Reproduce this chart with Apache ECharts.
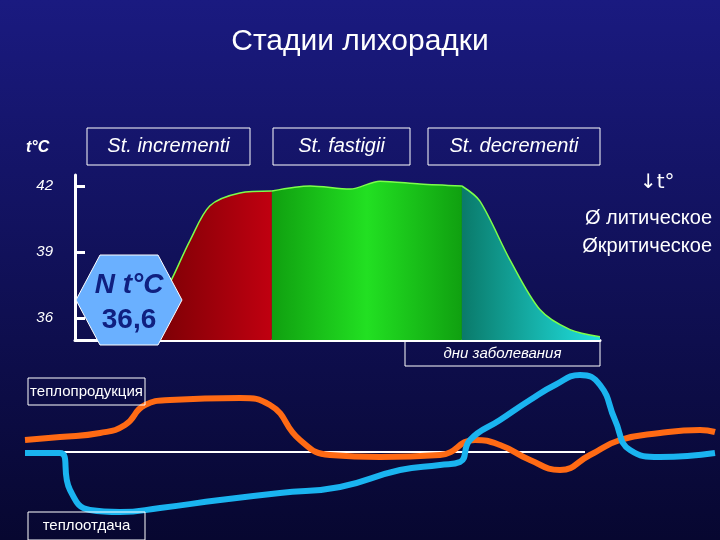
<!DOCTYPE html>
<html><head><meta charset="utf-8">
<script src="https://cdn.jsdelivr.net/npm/echarts@6/dist/echarts.min.js"></script>
<style>html,body{margin:0;padding:0}#c{width:720px;height:540px}</style>
</head><body><div id="c"></div>
<script>
// temperature curve, x = share of the illness (0..100), y = °C
var riseData = [[4.8,35.38],[10.5,35.69],[16.2,36.82],[21.9,39.52],[25.7,41.1],[31.4,41.68],[37.5,41.77]];
var peakData = [[37.5,41.77],[44.8,42.0],[52.4,41.86],[58.1,42.22],[65.7,42.09],[73.7,42.0]];
var fallData = [[73.7,42.0],[77.1,41.32],[82.9,38.62],[88.6,36.37],[94.3,35.47],[100,35.15]];
var tempTicks = [36, 39, 42];
// heat balance curves (relative position, lower panel)
var heatProd = [[25,440],[60,437],[100,433],[125,425],[145,405],[170,400],[240,398],[270,405],[300,440],[330,455],[380,457],[440,455],[475,440],[500,445],[530,460],[560,470],[590,455],[620,440],[660,433],[700,430],[715,432]];
var heatLoss = [[25,453],[60,453],[70,490],[90,510],[120,512],[160,508],[220,500],[280,493],[340,487],[400,470],[440,465],[460,462],[470,440],[500,420],[530,400],[555,385],[580,375],[600,385],[615,420],[630,450],[660,457],[715,453]];
var baseLine = [[60,452],[585,452]];
var stages = ['St. incrementi', 'St. fastigii', 'St. decrementi'];

var chart = echarts.init(document.getElementById('c'));
function box(x, y, w, h, txt, fs, italic) {
  return {type:'group', z:100, children:[
    {type:'rect', z:100, shape:{x:x,y:y,width:w,height:h}, style:{fill:'rgba(0,0,0,0)', stroke:'#fff', lineWidth:1}},
    {type:'text', z:101, x:x+w/2, y:y+h/2, style:{text:txt, fill:'#fff', font:(italic?'italic ':'')+fs+'px "Liberation Sans"', align:'center', verticalAlign:'middle'}}
  ]};
}
var option = {
  backgroundColor: {type:'linear', x:0, y:0, x2:0, y2:1, colorStops:[{offset:0,color:'#1a1a80'},{offset:1,color:'#070730'}]},
  title: {text:'Стадии лихорадки', left:'center', top:22, textStyle:{color:'#fff', fontSize:30, fontWeight:'normal', fontFamily:'Liberation Sans'}},
  grid: [
    {left:75, right:120, top:175, height:165},
    {left:25, right:5, top:370, height:160}
  ],
  xAxis: [
    {gridIndex:0, type:'value', min:0, max:100, axisLine:{show:true, lineStyle:{color:'#fff', width:3}}, axisTick:{show:false}, axisLabel:{show:false}, splitLine:{show:false}},
    {gridIndex:1, type:'value', min:25, max:715, show:false}
  ],
  yAxis: [
    {gridIndex:0, type:'value', min:35, max:42.5, axisLine:{show:true, lineStyle:{color:'#fff', width:3}},
     axisTick:{show:true, length:10, inside:true, lineStyle:{color:'#fff', width:3}, customValues:tempTicks},
     axisLabel:{color:'#fff', fontSize:15, fontStyle:'italic', margin:22, customValues:tempTicks}, splitLine:{show:false}},
    {gridIndex:1, type:'value', min:370, max:530, inverse:true, show:false}
  ],
  series: [
    {type:'line', xAxisIndex:0, yAxisIndex:0, data:riseData, smooth:0.3, symbol:'none', lineStyle:{color:'#7cff4a', width:1.5},
     areaStyle:{origin:'start', opacity:1, color:{type:'linear',x:0,y:0,x2:1,y2:0,colorStops:[{offset:0,color:'#5a0000'},{offset:1,color:'#c00010'}]}}},
    {type:'line', xAxisIndex:0, yAxisIndex:0, data:peakData, smooth:0.3, symbol:'none', lineStyle:{color:'#7cff4a', width:1.5},
     areaStyle:{origin:'start', opacity:1, color:{type:'linear',x:0,y:0,x2:1,y2:0,colorStops:[{offset:0,color:'#10a010'},{offset:0.5,color:'#22e022'},{offset:1,color:'#10a010'}]}}},
    {type:'line', xAxisIndex:0, yAxisIndex:0, data:fallData, smooth:0.3, symbol:'none', lineStyle:{color:'#7cff4a', width:1.5},
     areaStyle:{origin:'start', opacity:1, color:{type:'linear',x:0,y:0,x2:1,y2:0,colorStops:[{offset:0,color:'#0a7a6a'},{offset:1,color:'#20e0e0'}]}}},
    {type:'line', xAxisIndex:1, yAxisIndex:1, data:baseLine, symbol:'none', lineStyle:{color:'#fff', width:2}},
    {type:'line', xAxisIndex:1, yAxisIndex:1, data:heatProd, smooth:true, symbol:'none', lineStyle:{color:'#ff6a14', width:6}},
    {type:'line', xAxisIndex:1, yAxisIndex:1, data:heatLoss, smooth:true, symbol:'none', lineStyle:{color:'#1ab4f0', width:6}}
  ],
  graphic: [
    {type:'text', z:100, x:26, y:140, style:{text:'t°C', fill:'#fff', font:'italic bold 16px "Liberation Sans"'}},
    box(87, 128, 163, 37, stages[0], 20, true),
    box(273, 128, 137, 37, stages[1], 20, true),
    box(428, 128, 172, 37, stages[2], 20, true),
    {type:'polygon', z:100, shape:{points:[[100,255],[158,255],[182,300],[158,345],[100,345],[76,300]]}, style:{fill:'#6ab0ff', stroke:'#fff', lineWidth:1}},
    {type:'text', z:101, x:129, y:285, style:{text:'N t°C', fill:'#102080', font:'italic bold 28px "Liberation Sans"', align:'center', verticalAlign:'middle'}},
    {type:'text', z:101, x:129, y:320, style:{text:'36,6', fill:'#102080', font:'bold 28px "Liberation Sans"', align:'center', verticalAlign:'middle'}},
    box(405, 341, 195, 25, 'дни заболевания', 15, true),
    {type:'text', z:100, x:640, y:173, style:{text:'↓t°', fill:'#fff', font:'20px "DejaVu Sans"'}},
    {type:'text', z:100, x:712, y:208, style:{text:'Ø литическое', fill:'#fff', font:'20px "Liberation Sans"', align:'right'}},
    {type:'text', z:100, x:712, y:236, style:{text:'Øкритическое', fill:'#fff', font:'20px "Liberation Sans"', align:'right'}},
    box(28, 378, 117, 27, 'теплопродукция', 15, false),
    box(28, 512, 117, 28, 'теплоотдача', 15, false)
  ]
};
chart.setOption(option);
</script></body></html>
